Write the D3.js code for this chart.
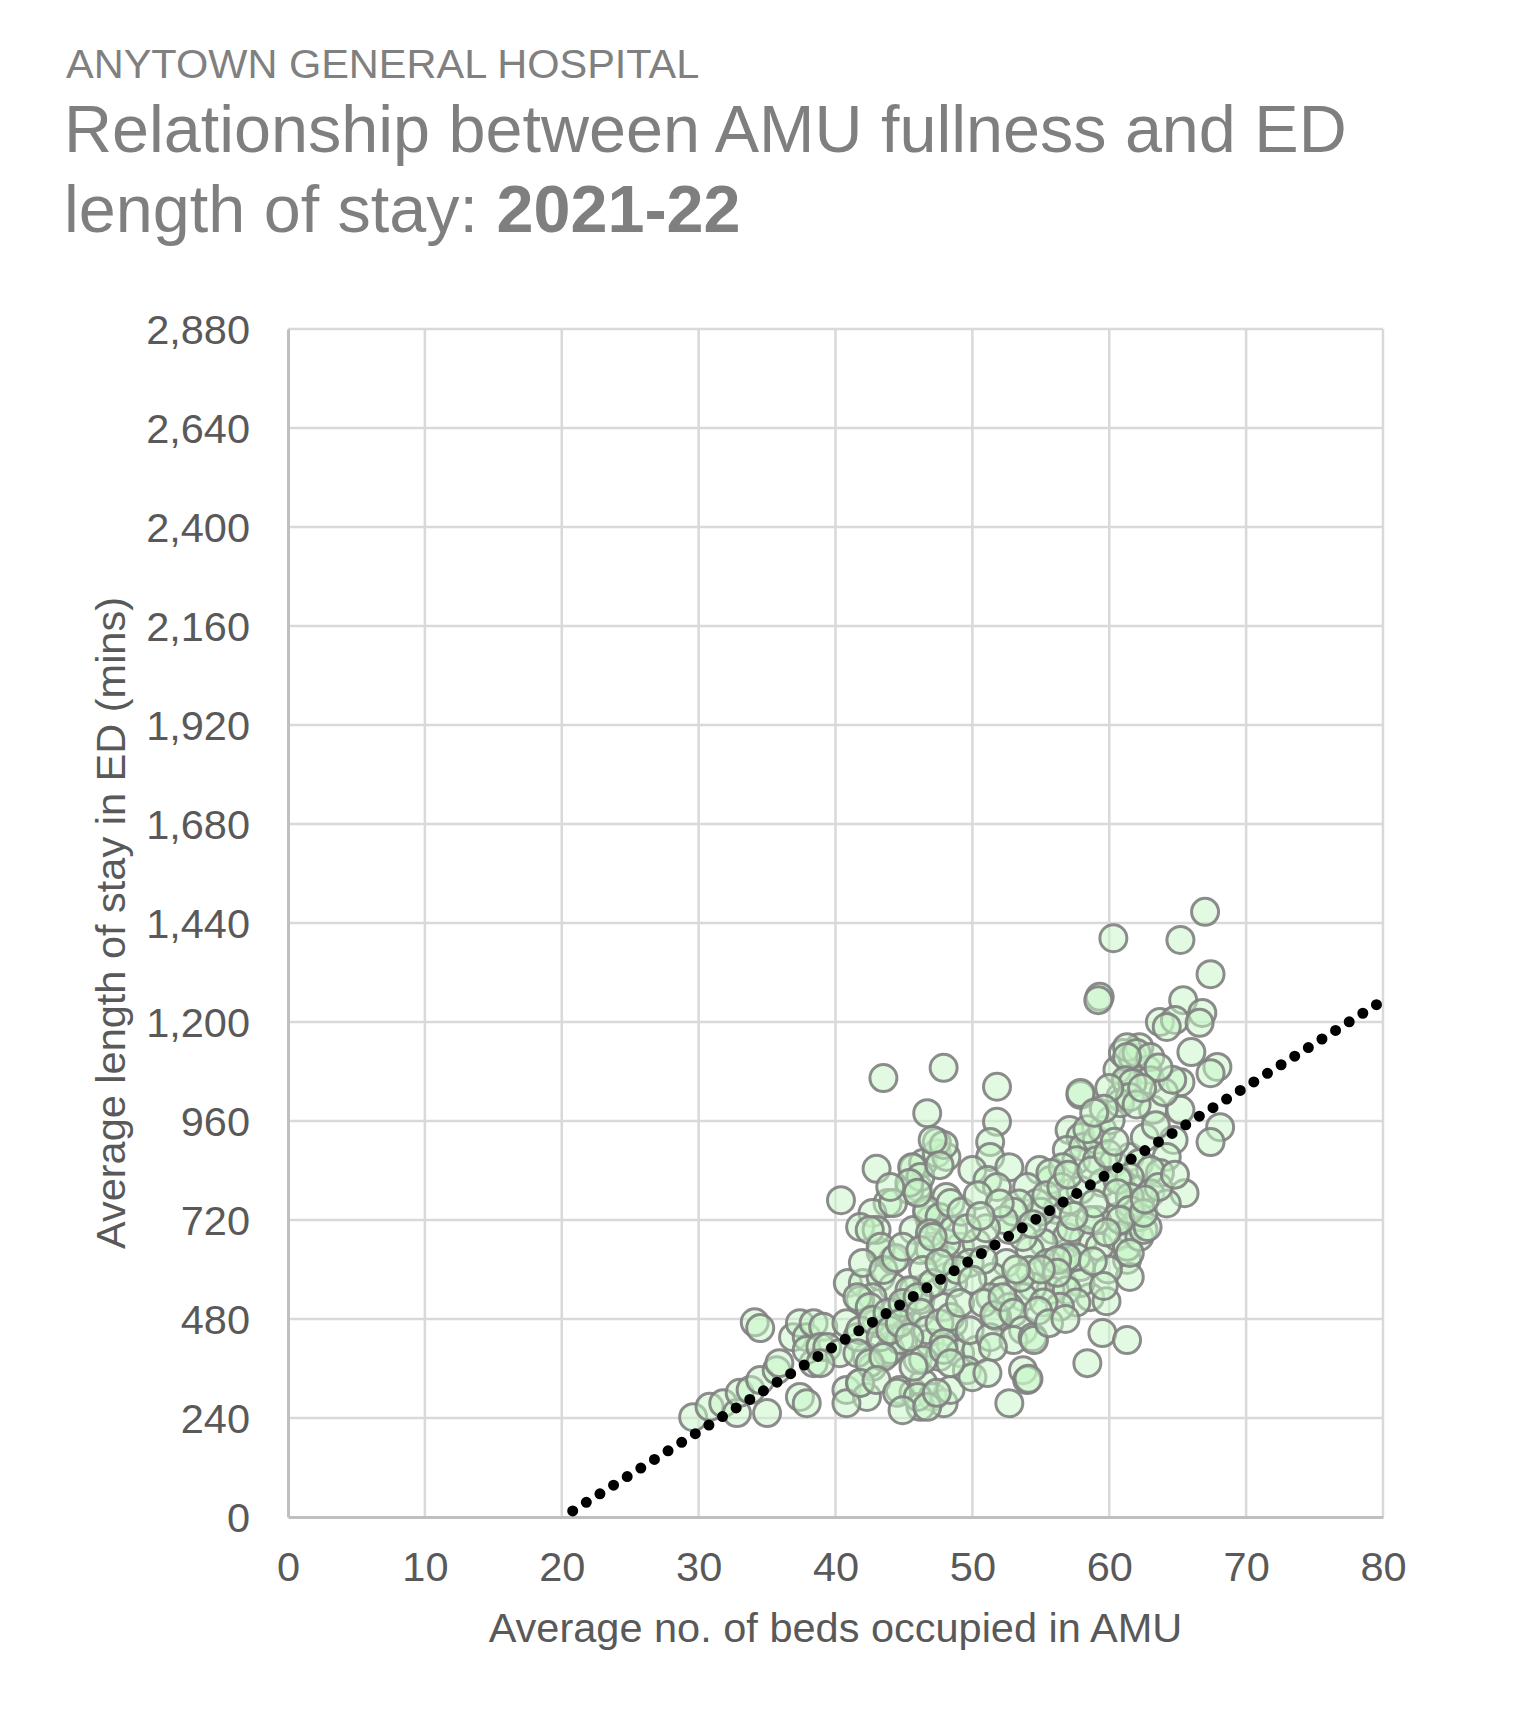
<!DOCTYPE html>
<html>
<head>
<meta charset="utf-8">
<script src="https://cdn.jsdelivr.net/npm/d3@7"></script>
<style>
  html, body { margin: 0; padding: 0; background: #ffffff; }
  svg { display: block; font-family: "Liberation Sans", Arial, sans-serif; }
</style>
</head>
<body>
<svg id="chart" width="1514" height="1735"></svg>
<script>
// ---- Data ----
const supertitle = "ANYTOWN GENERAL HOSPITAL";
const titleLine1 = "Relationship between AMU fullness and ED";
const titleLine2 = "length of stay: ";
const titleBold = "2021-22";
const xAxisTitle = "Average no. of beds occupied in AMU";
const yAxisTitle = "Average length of stay in ED (mins)";
const xTicks = [0, 10, 20, 30, 40, 50, 60, 70, 80];
const yTicks = [0, 240, 480, 720, 960, 1200, 1440, 1680, 1920, 2160, 2400, 2640, 2880];
// linear trendline (mins = slope * beds + intercept), drawn over this bed range
const trendSlope = 20.9;
const trendIntercept = -420;
const trendRange = [20.8, 80];
// daily points: [average beds occupied in AMU, average ED length of stay (mins)]
const dailyPoints = [
[29.6,242],[30.8,267],[31.8,276],[32.8,252],[33.0,301],[33.8,308],[34.5,332],[35.0,252],[34.1,472],[34.5,458],
[35.7,356],[35.9,373],[36.9,436],[37.4,470],[37.9,436],[38.4,470],[39.1,461],[37.4,291],[37.9,276],[38.4,373],
[37.9,405],[38.9,412],[39.4,412],[40.3,397],[38.9,373],[40.8,308],[41.8,325],[42.3,291],[40.8,276],[42.3,388],
[42.7,364],[43.8,397],[40.8,470],[41.6,436],[43.0,470],[44.2,461],[45.2,485],[40.9,567],[42.0,567],[43.3,582],
[44.2,558],[42.7,533],[41.8,526],[45.7,550],[46.7,558],[46.2,526],[44.9,509],[44.2,495],[48.1,582],[48.6,567],
[43.3,642],[44.2,623],[46.9,647],[48.1,623],[43.8,761],[42.7,737],[41.8,703],[43.0,696],[46.9,720],[46.7,737],
[45.7,696],[46.0,800],[45.4,793],[48.1,776],[45.7,846],[46.4,858],[47.4,882],[48.1,873],[43.0,844],[40.4,768],
[44.7,308],[45.7,301],[46.4,325],[47.1,291],[47.9,276],[48.4,308],[46.2,267],[44.0,405],[44.7,429],[46.0,381],
[46.9,422],[47.6,388],[48.4,422],[48.6,470],[47.9,509],
[43.5,1064],[47.9,1089],[51.8,1043],[46.7,979],[51.8,958],[57.9,1023],[47.4,909],[47.9,902],[47.1,914],[51.3,909],
[51.3,873],[45.6,848],[46.2,824],[47.6,853],[50.0,841],[51.1,817],[52.7,848],[51.8,800],[54.9,841],[55.7,817],
[57.1,938],[57.9,921],[56.9,890],[58.1,897],[59.1,914],[59.5,938],[60.1,962],[60.8,1018],[61.3,1052],[60.6,1084],
[61.0,1125],[61.7,1115],[62.2,1139],[62.8,1084],[57.6,865],[56.6,848],[55.7,834],[59.1,865],[60.3,858],[61.5,873],
[62.2,858],[59.5,810],[60.8,817],[62.2,793],[61.7,752],[60.6,727],[59.1,720],[58.1,672],[59.3,655],[60.6,679],
[61.5,696],[61.3,623],[61.5,582],[58.6,533],[59.5,446],[61.3,429],[58.4,373],[54.0,800],[54.7,761],[56.2,744],
[57.1,768],[57.9,793],[55.9,696],[56.9,679],[55.2,664],[54.2,647],[53.7,679],[52.7,696],[56.6,623],[55.5,616],
[54.2,599],[56.6,567],[55.7,550],[54.4,558],[53.7,533],[52.5,616],[51.5,582],[52.2,550],[51.3,533],[52.7,509],
[51.8,485],[49.1,655],[50.3,664],[49.8,616],[50.8,623],[48.9,599],[50.0,575],[46.7,744],[47.6,727],[48.4,761],
[46.9,688],[48.1,664],[48.6,696],[45.4,810],[44.2,761],[46.0,786],[44.0,800],[42.5,696],[43.3,655],[42.0,616],
[43.5,599],[44.4,628],[44.9,655],[46.2,647],[47.1,679],[46.4,599],[45.4,550],[47.1,567],[47.6,616],[41.6,533],
[42.5,509],[41.8,453],[42.7,478],[43.8,495],[43.3,436],[44.0,453],[44.9,519],[46.0,533],[44.7,470],[46.2,495],
[46.7,453],[45.4,436],[47.6,470],[48.4,485],[49.1,519],[47.9,422],[49.1,397],[50.3,405],[49.8,453],[51.3,436],
[50.8,519],[51.6,490],[52.2,533],[53.0,495],[53.7,453],[53.0,429],[51.5,412],[54.4,436],[53.7,356],[54.0,332],
[52.7,276],[49.6,356],[50.0,339],[51.1,349],[57.9,606],[57.6,630],[56.9,630],[56.2,623],[57.9,567],[56.9,550],
[56.2,592],[41.6,397],[42.5,373],[43.5,388],[41.8,325],[43.0,332],[44.5,301],[46.0,291],[44.9,259],[46.7,267],
[47.4,301],[46.4,381],[47.9,405],[48.4,373],[45.7,364],[61.3,655],[62.2,679],[61.5,761],[62.2,727],[62.5,696],
[67.0,1467],[60.3,1403],[65.2,1399],[67.4,1316],[59.3,1261],[59.2,1253],[65.4,1253],[66.8,1222],[63.7,1200],[64.8,1205],
[66.6,1198],[64.2,1188],[61.3,1139],[62.0,1125],[63.0,1115],[61.3,1115],[66.0,1127],[67.9,1091],[67.4,1076],[61.2,1059],
[63.0,1059],[61.7,1052],[65.2,1054],[57.9,1028],
[63.2,987],[65.2,987],[60.8,1003],[61.5,1018],[68.1,945],[67.4,909],[64.7,914],[64.2,873],[63.7,834],[63.0,841],
[61.5,824],[60.6,817],[65.5,785],[63.0,785],[61.5,776],[60.6,785],[62.8,703],[61.5,744],[60.8,720],[62.5,737],
[61.5,640],[59.8,523],[54.5,429],[54.1,335],
[57.2,700],[58.6,720],[59.8,690],[58.9,760],[57.4,730],[59.9,600],[58.8,620],[59.6,560],[57.6,520],[56.4,510],
[55.2,520],[55.0,740],[53.4,760],[53.0,740],[52.3,720],[54.4,710],[55.4,780],[56.5,800],[57.0,830],[58.7,840],
[59.9,880],[58.4,940],[60.4,910],[62.6,920],[63.4,950],[62.0,1000],[64.0,1030],[64.6,1060],[63.6,1090],[62.4,1040],
[60.0,1040],[59.6,990],[58.9,980],[64.2,760],[63.6,800],[64.8,830],[62.6,770],
[53.5,580],[54.8,500],[55.6,470],[56.8,480],[55.0,600],[53.2,600],
[49.2,740],[50.4,780],[51.0,700],[49.6,700],[52.0,760],[50.6,730]
];

// ---- Layout ----
const svg = d3.select("#chart");
const plot = { left: 288, right: 1383, top: 329, bottom: 1517 };
const x = d3.scaleLinear().domain([0, 80]).range([plot.left, plot.right]);
const y = d3.scaleLinear().domain([0, 2880]).range([plot.bottom, plot.top]);

// ---- Titles ----
svg.append("text").attr("x", 66).attr("y", 78)
  .attr("font-size", 41.5).attr("fill", "#808080").text(supertitle);
svg.append("text").attr("x", 64).attr("y", 152)
  .attr("font-size", 66.5).attr("fill", "#7f7f7f").text(titleLine1);
const t2 = svg.append("text").attr("x", 64).attr("y", 232)
  .attr("font-size", 66.5).attr("fill", "#7f7f7f");
t2.append("tspan").text(titleLine2);
t2.append("tspan").attr("font-weight", "bold").text(titleBold);

// ---- Gridlines ----
const grid = svg.append("g");
grid.selectAll("line.v").data(xTicks.filter(d => d > 0)).join("line")
  .attr("x1", d => x(d)).attr("x2", d => x(d))
  .attr("y1", plot.top).attr("y2", plot.bottom)
  .attr("stroke", "#d9d9d9").attr("stroke-width", 2.5);
grid.selectAll("line.h").data(yTicks.filter(d => d > 0)).join("line")
  .attr("x1", plot.left).attr("x2", plot.right)
  .attr("y1", d => y(d)).attr("y2", d => y(d))
  .attr("stroke", "#d9d9d9").attr("stroke-width", 2.5);

// ---- Axes ----
const xAxis = svg.append("g").attr("transform", `translate(0,${plot.bottom})`)
  .call(d3.axisBottom(x).tickValues(xTicks).tickSize(0).tickPadding(34).tickFormat(d3.format("d")));
const yAxis = svg.append("g").attr("transform", `translate(${plot.left},0)`)
  .call(d3.axisLeft(y).tickValues(yTicks).tickSize(0).tickPadding(38).tickFormat(d3.format(",")));
[xAxis, yAxis].forEach(g => {
  g.select(".domain").attr("stroke", "#bfbfbf").attr("stroke-width", 3);
  g.selectAll("text").attr("font-size", 41.5).attr("fill", "#595959")
    .attr("font-family", "'Liberation Sans', Arial, sans-serif");
});
yAxis.selectAll("text").attr("dy", "0.35em");
xAxis.selectAll("text").attr("dy", "0.72em");

svg.append("text").attr("x", (plot.left + plot.right) / 2).attr("y", 1642)
  .attr("text-anchor", "middle").attr("font-size", 41.5).attr("fill", "#595959").text(xAxisTitle);
svg.append("text")
  .attr("transform", `translate(125,${(plot.top + plot.bottom) / 2}) rotate(-90)`)
  .attr("text-anchor", "middle").attr("font-size", 41.5).attr("fill", "#595959").text(yAxisTitle);

// ---- Points ----
svg.append("g").selectAll("circle").data(dailyPoints).join("circle")
  .attr("cx", d => x(d[0])).attr("cy", d => y(d[1])).attr("r", 13.5)
  .attr("fill", "#c6f5c6").attr("fill-opacity", 0.5)
  .attr("stroke", "#7f7f7f").attr("stroke-opacity", 0.9).attr("stroke-width", 3);

// ---- Trendline ----
const trendPts = trendRange.map(b => [b, trendSlope * b + trendIntercept]);
svg.append("path")
  .attr("d", d3.line().x(d => x(d[0])).y(d => y(d[1]))(trendPts))
  .attr("fill", "none").attr("stroke", "#000").attr("stroke-width", 11)
  .attr("stroke-linecap", "round").attr("stroke-dasharray", "0 16.1");
</script>
</body>
</html>
